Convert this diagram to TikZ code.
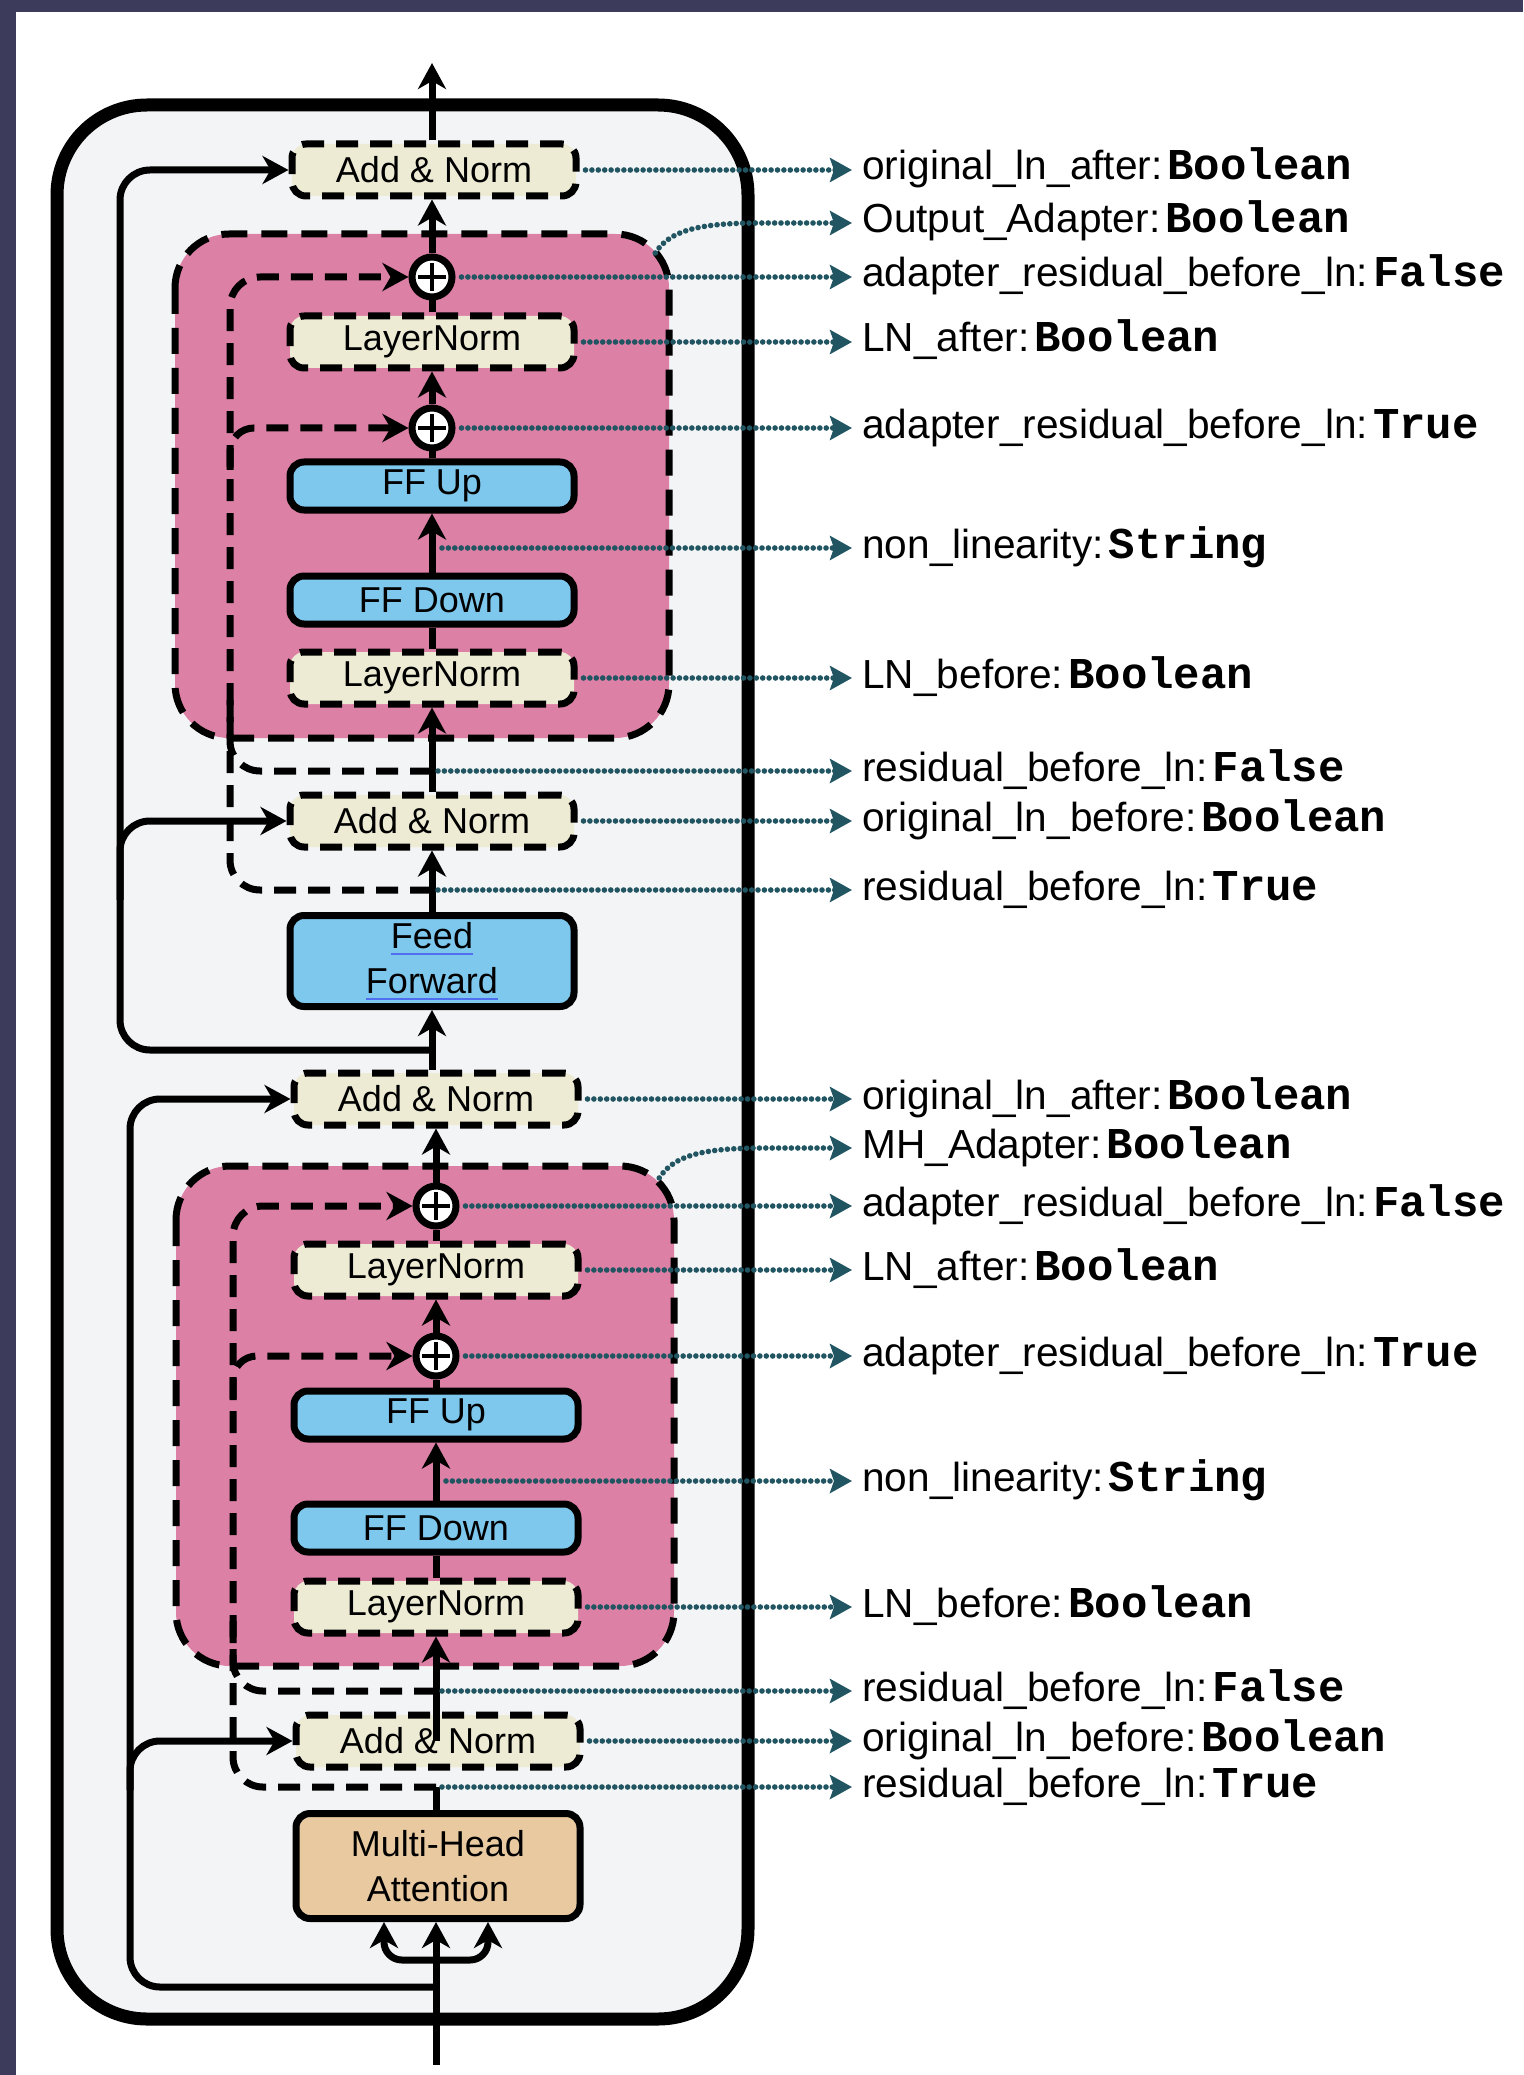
\documentclass[tikz,border=0pt]{standalone}
\usepackage{fontspec}
\setmainfont{Liberation Sans}
\setsansfont{Liberation Sans}
\setmonofont{Liberation Mono}
\usetikzlibrary{arrows.meta}

\definecolor{framebar}{RGB}{60,59,92}
\definecolor{blockgray}{HTML}{F3F4F6}
\definecolor{adapterpink}{HTML}{DC80A5}
\definecolor{normcream}{HTML}{EDEBD4}
\definecolor{ffblue}{HTML}{7EC8EE}
\definecolor{mhatan}{HTML}{E8C9A0}
\definecolor{cfgteal}{HTML}{215562}
\definecolor{spellblue}{RGB}{80,110,240}

% value part of a config label
\newcommand{\cfgval}[1]{\hspace{2.5pt}{\ttfamily\bfseries\fontsize{22pt}{24pt}\selectfont #1}}
% word with a spell-check underline
\newcommand{\spellul}[1]{\setbox0\hbox{#1}\rlap{\color{spellblue}\rule[-3.5pt]{\wd0}{1.2pt}}\box0}

\begin{document}
\begin{tikzpicture}[x=0.5pt, y=-0.5pt,
    font=\sffamily\fontsize{18pt}{22.5pt}\selectfont,
    >={Stealth[length=13pt, width=14pt, inset=4pt]},
    flow/.style={line width=3.5pt},
    resline/.style={line width=3.5pt, dash pattern=on 11pt off 6pt},
    normbox/.style={draw, line width=3.5pt, dash pattern=on 11pt off 6pt,
                    fill=normcream, rounded corners=7pt, inner sep=0pt,
                    minimum width=142pt, minimum height=26pt},
    ffbox/.style={draw, line width=3.5pt, fill=ffblue, rounded corners=7pt,
                  inner sep=0pt, align=center,
                  minimum width=142pt, minimum height=24pt},
    adapterbox/.style={draw, line width=3.5pt, dash pattern=on 13pt off 7pt,
                       fill=adapterpink, rounded corners=27pt},
    addplus/.style={circle, draw, fill=white, line width=3.5pt,
                    minimum size=20pt, inner sep=0pt,
                    path picture={\draw[line width=2pt]
                      ([xshift=3pt]path picture bounding box.west) -- ([xshift=-3pt]path picture bounding box.east)
                      ([yshift=-3pt]path picture bounding box.north) -- ([yshift=3pt]path picture bounding box.south);}},
    cfgline/.style={color=cfgteal, line width=2.8pt, line cap=round,
                    dash pattern=on 0pt off 3.2pt, shorten <=3pt,
                    -{Stealth[length=11pt, width=12pt, inset=2pt]}},
    cfglabel/.style={anchor=west, inner xsep=5pt, inner ysep=0pt,
                     text height=14pt, text depth=4pt,
                     font=\fontsize{20.3pt}{24pt}\selectfont}]

    % canvas and frame
    \useasboundingbox (0,0) rectangle (1523,2075);
    \fill[white] (0,0) rectangle (1523,2075);
    \fill[framebar] (0,0) rectangle (1523,12);
    \fill[framebar] (0,0) rectangle (16,2075);

    % transformer layer
    \draw[line width=6.5pt, fill=blockgray, rounded corners=45pt] (57,105) rectangle (748,2019);

    % adapters
    \draw[adapterbox] (175,234) rectangle (669,738);
    \draw[adapterbox] (176,1166) rectangle (674,1666);

    % feed forward part
    \node[normbox] (an1) at (434,170) {Add \& Norm};
    \node[addplus] (plus1) at (432,277) {};
    \node[normbox] (ln1) at (432,342) {LayerNorm};
    \node[addplus] (plus2) at (432,428) {};
    \node[ffbox] (ffup) at (432,486) {FF Up};
    \node[ffbox] (ffdown) at (432,600) {FF Down};
    \node[normbox] (ln2) at (432,678) {LayerNorm};
    \node[normbox] (an2) at (432,821) {Add \& Norm};
    \node[ffbox,
          minimum height=45.5pt] (ff) at (432,961) {\spellul{Feed}\\\spellul{Forward}};

    % attention part
    \node[normbox] (an3) at (436,1099) {Add \& Norm};
    \node[addplus] (plus3) at (436,1206) {};
    \node[normbox] (ln3) at (436,1270) {LayerNorm};
    \node[addplus] (plus4) at (436,1356) {};
    \node[ffbox] (ffup2) at (436,1415) {FF Up};
    \node[ffbox] (ffdown2) at (436,1528) {FF Down};
    \node[normbox] (ln4) at (436,1607) {LayerNorm};
    \node[normbox] (an4) at (438,1741) {Add \& Norm};
    \node[ffbox,
          fill=mhatan,
          minimum height=52.5pt] (mha) at (438,1866) {Multi-Head\\Attention};

    % points on the main path
    \coordinate (outA) at (432,63);
    \coordinate (nlA) at (436,548);
    \coordinate (resA1) at (432,771);
    \coordinate (resA2) at (432,890);
    \coordinate (skipA) at (432,1050);
    \coordinate (skipA2) at (120,900);
    \coordinate (resAv) at (230,700);
    \coordinate (resA3) at (230,470);
    \coordinate (nlB) at (440,1481);
    \coordinate (resB1) at (436,1691);
    \coordinate (resB2) at (436,1787);
    \coordinate (resBv) at (233,1620);
    \coordinate (resB3) at (233,1400);
    \coordinate (skipB2) at (130,1790);
    \coordinate (fork) at (436,1960);
    \coordinate (skipB) at (436,1987);
    \coordinate (inB) at (436,2065);
    \coordinate (cornerA) at (652,258);
    \coordinate (cornerB) at (656,1183);

    % main path
    \path[flow]
        (an1.north -| outA) edge[->] (outA)
        (plus1) edge[->] (plus1 |- an1.south)
        (ln1) edge (plus1)
        (plus2) edge[->] (ln1)
        (ffup) edge (plus2)
        (ffdown) edge[->] (ffup)
        (ln2) edge (ffdown)
        (an2) edge[->] (ln2)
        (ff) edge[->] (an2)
        (an3.north -| ff) edge[->] (ff)
        (plus3) edge[->] (plus3 |- an3.south)
        (ln3) edge (plus3)
        (plus4) edge[->] (ln3)
        (ffup2) edge (plus4)
        (ffdown2) edge[->] (ffup2)
        (ln4) edge (ffdown2)
        (an4.center -| ln4) edge[->] (ln4)
        (mha.north -| resB2) edge (resB2)
        (inB) edge[->] (inB |- mha.south);
    \draw[flow, ->, rounded corners=9pt] (fork) -| ([xshift=-26pt]fork |- mha.south);
    \draw[flow, ->, rounded corners=9pt] (fork) -| ([xshift=26pt]fork |- mha.south);

    % skip connections
    \draw[flow, ->, rounded corners=15pt] (skipA) -| (120,600) |- (an1.west);
    \draw[flow, ->, rounded corners=15pt] (skipA2) |- (an2.west);
    \draw[flow, ->, rounded corners=15pt] (skipB) -| (130,1500) |- (an3.west);
    \draw[flow, ->, rounded corners=15pt] (skipB2) |- (an4.west);

    % adapter residuals
    \draw[resline, ->, rounded corners=15pt] (resA2) -| (230,600) |- (plus1.west);
    \draw[resline, rounded corners=15pt] (resA1) -| (resAv);
    \draw[resline, ->, rounded corners=12pt] (resA3) |- (plus2.west);
    \draw[resline, ->, rounded corners=15pt] (resB2) -| (233,1500) |- (plus3.west);
    \draw[resline, rounded corners=15pt] (resB1) -| (resBv);
    \draw[resline, ->, rounded corners=12pt] (resB3) |- (plus4.west);

    % config options
    \node[cfglabel] (labA1) at (852,170) {original\_ln\_after:\cfgval{Boolean}};
    \node[cfglabel] (labA2) at (852,223) {Output\_Adapter:\cfgval{Boolean}};
    \node[cfglabel] (labA3) at (852,277) {adapter\_residual\_before\_ln:\cfgval{False}};
    \node[cfglabel] (labA4) at (852,342) {LN\_after:\cfgval{Boolean}};
    \node[cfglabel] (labA5) at (852,428) {adapter\_residual\_before\_ln:\cfgval{True}};
    \node[cfglabel] (labA6) at (852,548) {non\_linearity:\cfgval{String}};
    \node[cfglabel] (labA7) at (852,678) {LN\_before:\cfgval{Boolean}};
    \node[cfglabel] (labA8) at (852,771) {residual\_before\_ln:\cfgval{False}};
    \node[cfglabel] (labA9) at (852,821) {original\_ln\_before:\cfgval{Boolean}};
    \node[cfglabel] (labA10) at (852,890) {residual\_before\_ln:\cfgval{True}};

    \node[cfglabel] (labB1) at (852,1099) {original\_ln\_after:\cfgval{Boolean}};
    \node[cfglabel] (labB2) at (852,1148) {MH\_Adapter:\cfgval{Boolean}};
    \node[cfglabel] (labB3) at (852,1206) {adapter\_residual\_before\_ln:\cfgval{False}};
    \node[cfglabel] (labB4) at (852,1270) {LN\_after:\cfgval{Boolean}};
    \node[cfglabel] (labB5) at (852,1356) {adapter\_residual\_before\_ln:\cfgval{True}};
    \node[cfglabel] (labB6) at (852,1481) {non\_linearity:\cfgval{String}};
    \node[cfglabel] (labB7) at (852,1607) {LN\_before:\cfgval{Boolean}};
    \node[cfglabel] (labB8) at (852,1691) {residual\_before\_ln:\cfgval{False}};
    \node[cfglabel] (labB9) at (852,1741) {original\_ln\_before:\cfgval{Boolean}};
    \node[cfglabel] (labB10) at (852,1787) {residual\_before\_ln:\cfgval{True}};

    \path[cfgline]
        (an1) edge (labA1)
        (plus1) edge (labA3)
        (ln1) edge (labA4)
        (plus2) edge (labA5)
        (nlA) edge (labA6)
        (ln2) edge (labA7)
        (resA1) edge (labA8)
        (an2) edge (labA9)
        (resA2) edge (labA10)
        (an3) edge (labB1)
        (plus3) edge (labB3)
        (ln3) edge (labB4)
        (plus4) edge (labB5)
        (nlB) edge (labB6)
        (ln4) edge (labB7)
        (resB1) edge (labB8)
        (an4) edge (labB9)
        (resB2) edge (labB10);
    \draw[cfgline] (cornerA) .. controls (670,230) and (700,223) .. (760,223) -- (labA2);
    \draw[cfgline] (cornerB) .. controls (674,1155) and (704,1148) .. (764,1148) -- (labB2);
\end{tikzpicture}
\end{document}
